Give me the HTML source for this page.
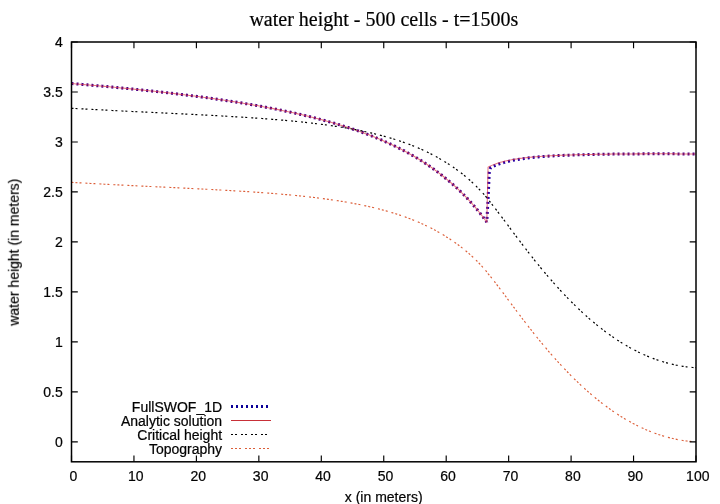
<!DOCTYPE html>
<html><head><meta charset="utf-8"><title>water height</title>
<style>html,body{margin:0;padding:0;background:#fff;width:720px;height:504px;overflow:hidden}</style></head>
<body>
<svg width="720" height="504" viewBox="0 0 720 504" style="position:absolute;left:0;top:0">
<rect width="720" height="504" fill="#fff"/>
<path d="M71.50,83.55 L72.12,83.60 L73.37,83.70 L74.62,83.80 L75.87,83.91 L77.12,84.01 L78.37,84.11 L79.62,84.22 L80.87,84.32 L82.12,84.42 L83.37,84.53 L84.61,84.63 L85.86,84.74 L87.11,84.85 L88.36,84.95 L89.61,85.06 L90.86,85.17 L92.11,85.28 L93.36,85.38 L94.61,85.49 L95.86,85.60 L97.10,85.71 L98.35,85.82 L99.60,85.93 L100.85,86.05 L102.10,86.16 L103.35,86.27 L104.60,86.38 L105.85,86.50 L107.10,86.61 L108.35,86.72 L109.59,86.84 L110.84,86.95 L112.09,87.07 L113.34,87.19 L114.59,87.30 L115.84,87.42 L117.09,87.54 L118.34,87.66 L119.59,87.78 L120.84,87.90 L122.08,88.02 L123.33,88.14 L124.58,88.26 L125.83,88.38 L127.08,88.50 L128.33,88.62 L129.58,88.75 L130.83,88.87 L132.08,89.00 L133.33,89.12 L134.57,89.25 L135.82,89.37 L137.07,89.50 L138.32,89.63 L139.57,89.76 L140.82,89.89 L142.07,90.01 L143.32,90.14 L144.57,90.28 L145.82,90.41 L147.06,90.54 L148.31,90.67 L149.56,90.81 L150.81,90.94 L152.06,91.07 L153.31,91.21 L154.56,91.35 L155.81,91.48 L157.06,91.62 L158.31,91.76 L159.55,91.90 L160.80,92.04 L162.05,92.18 L163.30,92.32 L164.55,92.46 L165.80,92.60 L167.05,92.75 L168.30,92.89 L169.55,93.03 L170.80,93.18 L172.04,93.33 L173.29,93.47 L174.54,93.62 L175.79,93.77 L177.04,93.92 L178.29,94.07 L179.54,94.22 L180.79,94.37 L182.04,94.53 L183.29,94.68 L184.53,94.83 L185.78,94.99 L187.03,95.15 L188.28,95.30 L189.53,95.46 L190.78,95.62 L192.03,95.78 L193.28,95.94 L194.53,96.10 L195.78,96.26 L197.02,96.43 L198.27,96.59 L199.52,96.76 L200.77,96.92 L202.02,97.09 L203.27,97.26 L204.52,97.43 L205.77,97.60 L207.02,97.77 L208.27,97.94 L209.51,98.12 L210.76,98.29 L212.01,98.47 L213.26,98.64 L214.51,98.82 L215.76,99.00 L217.01,99.18 L218.26,99.36 L219.51,99.54 L220.76,99.73 L222.00,99.91 L223.25,100.10 L224.50,100.28 L225.75,100.47 L227.00,100.66 L228.25,100.85 L229.50,101.04 L230.75,101.24 L232.00,101.43 L233.25,101.62 L234.49,101.82 L235.74,102.02 L236.99,102.22 L238.24,102.42 L239.49,102.62 L240.74,102.82 L241.99,103.03 L243.24,103.23 L244.49,103.44 L245.74,103.65 L246.98,103.86 L248.23,104.07 L249.48,104.28 L250.73,104.50 L251.98,104.72 L253.23,104.93 L254.48,105.15 L255.73,105.37 L256.98,105.59 L258.23,105.82 L259.47,106.04 L260.72,106.27 L261.97,106.50 L263.22,106.73 L264.47,106.96 L265.72,107.19 L266.97,107.43 L268.22,107.66 L269.47,107.90 L270.72,108.14 L271.96,108.38 L273.21,108.63 L274.46,108.87 L275.71,109.12 L276.96,109.37 L278.21,109.62 L279.46,109.87 L280.71,110.13 L281.96,110.39 L283.21,110.65 L284.45,110.91 L285.70,111.17 L286.95,111.43 L288.20,111.70 L289.45,111.97 L290.70,112.24 L291.95,112.51 L293.20,112.79 L294.45,113.07 L295.70,113.35 L296.94,113.63 L298.19,113.91 L299.44,114.20 L300.69,114.49 L301.94,114.78 L303.19,115.08 L304.44,115.37 L305.69,115.67 L306.94,115.97 L308.19,116.28 L309.43,116.58 L310.68,116.89 L311.93,117.20 L313.18,117.52 L314.43,117.83 L315.68,118.15 L316.93,118.48 L318.18,118.80 L319.43,119.13 L320.68,119.46 L321.92,119.79 L323.17,120.13 L324.42,120.47 L325.67,120.81 L326.92,121.16 L328.17,121.51 L329.42,121.86 L330.67,122.21 L331.92,122.57 L333.17,122.93 L334.41,123.30 L335.66,123.67 L336.91,124.04 L338.16,124.42 L339.41,124.79 L340.66,125.18 L341.91,125.56 L343.16,125.95 L344.41,126.35 L345.66,126.74 L346.90,127.14 L348.15,127.55 L349.40,127.96 L350.65,128.37 L351.90,128.79 L353.15,129.21 L354.40,129.63 L355.65,130.06 L356.90,130.50 L358.15,130.94 L359.39,131.38 L360.64,131.83 L361.89,132.28 L363.14,132.73 L364.39,133.19 L365.64,133.66 L366.89,134.13 L368.14,134.61 L369.39,135.09 L370.64,135.57 L371.88,136.06 L373.13,136.56 L374.38,137.06 L375.63,137.57 L376.88,138.08 L378.13,138.60 L379.38,139.12 L380.63,139.65 L381.88,140.19 L383.13,140.73 L384.37,141.28 L385.62,141.83 L386.87,142.39 L388.12,142.95 L389.37,143.53 L390.62,144.11 L391.87,144.69 L393.12,145.28 L394.37,145.88 L395.62,146.49 L396.86,147.10 L398.11,147.73 L399.36,148.35 L400.61,148.99 L401.86,149.63 L403.11,150.29 L404.36,150.95 L405.61,151.61 L406.86,152.29 L408.11,152.97 L409.35,153.67 L410.60,154.37 L411.85,155.08 L413.10,155.80 L414.35,156.52 L415.60,157.26 L416.85,158.01 L418.10,158.77 L419.35,159.53 L420.60,160.31 L421.84,161.10 L423.09,161.89 L424.34,162.70 L425.59,163.52 L426.84,164.35 L428.09,165.19 L429.34,166.05 L430.59,166.91 L431.84,167.79 L433.09,168.68 L434.33,169.58 L435.58,170.49 L436.83,171.42 L438.08,172.36 L439.33,173.31 L440.58,174.28 L441.83,175.26 L443.08,176.25 L444.33,177.26 L445.58,178.29 L446.82,179.31 L448.07,180.34 L449.32,181.39 L450.57,182.45 L451.82,183.52 L453.07,184.62 L454.32,185.73 L455.57,186.86 L456.82,188.00 L458.07,189.17 L459.31,190.35 L460.56,191.56 L461.81,192.78 L463.06,194.02 L464.31,195.29 L465.56,196.57 L466.81,197.88 L468.06,199.21 L469.31,200.56 L470.56,201.94 L471.80,203.34 L473.05,204.76 L474.30,206.21 L475.55,207.68 L476.80,209.18 L478.05,210.71 L479.30,212.26 L480.55,213.84 L481.80,215.46 L483.05,217.10 L484.29,218.77 L485.54,220.47 L486.79,222.20" fill="none" stroke="#4a0088" stroke-width="3" stroke-dasharray="2 3" stroke-dashoffset="0.000" stroke-linejoin="round"/>
<path d="M486.79,222.20 L488.04,199.92 L489.29,171.94 L490.54,167.62 L491.79,167.00 L493.04,166.41 L494.29,165.86 L495.54,165.34 L496.78,164.85 L498.03,164.38 L499.28,163.94 L500.53,163.53 L501.78,163.13 L503.03,162.75 L504.28,162.40 L505.53,162.06 L506.78,161.74 L508.03,161.43 L509.27,161.13 L510.52,160.85 L511.77,160.59 L513.02,160.33 L514.27,160.09 L515.52,159.86 L516.77,159.63 L518.02,159.42 L519.27,159.22 L520.52,159.02 L521.76,158.83 L523.01,158.65 L524.26,158.48 L525.51,158.31 L526.76,158.15 L528.01,158.00 L529.26,157.85 L530.51,157.71 L531.76,157.58 L533.01,157.45 L534.25,157.32 L535.50,157.20 L536.75,157.08 L538.00,156.97 L539.25,156.86 L540.50,156.76 L541.75,156.66 L543.00,156.56 L544.25,156.47 L545.50,156.37 L546.74,156.29" fill="none" stroke="#2c00a4" stroke-width="3" stroke-dasharray="2 3" stroke-dashoffset="1.629" stroke-linejoin="round"/>
<path d="M546.74,156.29 L547.99,156.20 L549.24,156.12 L550.49,156.04 L551.74,155.97 L552.99,155.89 L554.24,155.82 L555.49,155.75 L556.74,155.69 L557.99,155.62 L559.23,155.56 L560.48,155.50 L561.73,155.44 L562.98,155.38 L564.23,155.33 L565.48,155.28 L566.73,155.23 L567.98,155.18 L569.23,155.13 L570.48,155.08 L571.72,155.04 L572.97,154.99 L574.22,154.95 L575.47,154.91 L576.72,154.87 L577.97,154.83 L579.22,154.79 L580.47,154.76 L581.72,154.72 L582.97,154.69 L584.21,154.65 L585.46,154.62 L586.71,154.59 L587.96,154.56 L589.21,154.53 L590.46,154.50 L591.71,154.48 L592.96,154.45 L594.21,154.42 L595.46,154.40 L596.70,154.37 L597.95,154.35 L599.20,154.33 L600.45,154.31 L601.70,154.28 L602.95,154.26 L604.20,154.24 L605.45,154.22 L606.70,154.21 L607.95,154.19 L609.19,154.17 L610.44,154.15 L611.69,154.14 L612.94,154.12 L614.19,154.10 L615.44,154.09 L616.69,154.07 L617.94,154.06 L619.19,154.05 L620.44,154.03 L621.68,154.02 L622.93,154.01 L624.18,154.00 L625.43,153.99 L626.68,153.98 L627.93,153.97 L629.18,153.96 L630.43,153.95 L631.68,153.94 L632.93,153.93 L634.17,153.92 L635.42,153.91 L636.67,153.90 L637.92,153.89 L639.17,153.89 L640.42,153.88 L641.67,153.87 L642.92,153.87 L644.17,153.86 L645.42,153.86 L646.66,153.85 L647.91,153.85 L649.16,153.84 L650.41,153.84 L651.66,153.83 L652.91,153.83 L654.16,153.83 L655.41,153.82 L656.66,153.82 L657.91,153.82 L659.15,153.81 L660.40,153.81 L661.65,153.81 L662.90,153.81 L664.15,153.81 L665.40,153.81 L666.65,153.82 L667.90,153.83 L669.15,153.84 L670.40,153.85 L671.64,153.85 L672.89,153.86 L674.14,153.87 L675.39,153.88 L676.64,153.89 L677.89,153.90 L679.14,153.91 L680.39,153.93 L681.64,153.94 L682.89,153.95 L684.13,153.96 L685.38,153.97 L686.63,153.98 L687.88,153.99 L689.13,154.01 L690.38,154.02 L691.63,154.03 L692.88,154.04 L694.13,154.06 L695.38,154.07 L696.00,154.07" fill="none" stroke="#4a0088" stroke-width="3" stroke-dasharray="2 3" stroke-dashoffset="4.151" stroke-linejoin="round"/>
<path d="M71.50,83.55 L72.12,83.60 L73.37,83.70 L74.62,83.80 L75.87,83.91 L77.12,84.01 L78.37,84.11 L79.62,84.22 L80.87,84.32 L82.12,84.42 L83.37,84.53 L84.61,84.63 L85.86,84.74 L87.11,84.85 L88.36,84.95 L89.61,85.06 L90.86,85.17 L92.11,85.28 L93.36,85.38 L94.61,85.49 L95.86,85.60 L97.10,85.71 L98.35,85.82 L99.60,85.93 L100.85,86.05 L102.10,86.16 L103.35,86.27 L104.60,86.38 L105.85,86.50 L107.10,86.61 L108.35,86.72 L109.59,86.84 L110.84,86.95 L112.09,87.07 L113.34,87.19 L114.59,87.30 L115.84,87.42 L117.09,87.54 L118.34,87.66 L119.59,87.78 L120.84,87.90 L122.08,88.02 L123.33,88.14 L124.58,88.26 L125.83,88.38 L127.08,88.50 L128.33,88.62 L129.58,88.75 L130.83,88.87 L132.08,89.00 L133.33,89.12 L134.57,89.25 L135.82,89.37 L137.07,89.50 L138.32,89.63 L139.57,89.76 L140.82,89.89 L142.07,90.01 L143.32,90.14 L144.57,90.28 L145.82,90.41 L147.06,90.54 L148.31,90.67 L149.56,90.81 L150.81,90.94 L152.06,91.07 L153.31,91.21 L154.56,91.35 L155.81,91.48 L157.06,91.62 L158.31,91.76 L159.55,91.90 L160.80,92.04 L162.05,92.18 L163.30,92.32 L164.55,92.46 L165.80,92.60 L167.05,92.75 L168.30,92.89 L169.55,93.03 L170.80,93.18 L172.04,93.33 L173.29,93.47 L174.54,93.62 L175.79,93.77 L177.04,93.92 L178.29,94.07 L179.54,94.22 L180.79,94.37 L182.04,94.53 L183.29,94.68 L184.53,94.83 L185.78,94.99 L187.03,95.15 L188.28,95.30 L189.53,95.46 L190.78,95.62 L192.03,95.78 L193.28,95.94 L194.53,96.10 L195.78,96.26 L197.02,96.43 L198.27,96.59 L199.52,96.76 L200.77,96.92 L202.02,97.09 L203.27,97.26 L204.52,97.43 L205.77,97.60 L207.02,97.77 L208.27,97.94 L209.51,98.12 L210.76,98.29 L212.01,98.47 L213.26,98.64 L214.51,98.82 L215.76,99.00 L217.01,99.18 L218.26,99.36 L219.51,99.54 L220.76,99.73 L222.00,99.91 L223.25,100.10 L224.50,100.28 L225.75,100.47 L227.00,100.66 L228.25,100.85 L229.50,101.04 L230.75,101.24 L232.00,101.43 L233.25,101.62 L234.49,101.82 L235.74,102.02 L236.99,102.22 L238.24,102.42 L239.49,102.62 L240.74,102.82 L241.99,103.03 L243.24,103.23 L244.49,103.44 L245.74,103.65 L246.98,103.86 L248.23,104.07 L249.48,104.28 L250.73,104.50 L251.98,104.72 L253.23,104.93 L254.48,105.15 L255.73,105.37 L256.98,105.59 L258.23,105.82 L259.47,106.04 L260.72,106.27 L261.97,106.50 L263.22,106.73 L264.47,106.96 L265.72,107.19 L266.97,107.43 L268.22,107.66 L269.47,107.90 L270.72,108.14 L271.96,108.38 L273.21,108.63 L274.46,108.87 L275.71,109.12 L276.96,109.37 L278.21,109.62 L279.46,109.87 L280.71,110.13 L281.96,110.39 L283.21,110.65 L284.45,110.91 L285.70,111.17 L286.95,111.43 L288.20,111.70 L289.45,111.97 L290.70,112.24 L291.95,112.51 L293.20,112.79 L294.45,113.07 L295.70,113.35 L296.94,113.63 L298.19,113.91 L299.44,114.20 L300.69,114.49 L301.94,114.78 L303.19,115.08 L304.44,115.37 L305.69,115.67 L306.94,115.97 L308.19,116.28 L309.43,116.58 L310.68,116.89 L311.93,117.20 L313.18,117.52 L314.43,117.83 L315.68,118.15 L316.93,118.48 L318.18,118.80 L319.43,119.13 L320.68,119.46 L321.92,119.79 L323.17,120.13 L324.42,120.47 L325.67,120.81 L326.92,121.16 L328.17,121.51 L329.42,121.86 L330.67,122.21 L331.92,122.57 L333.17,122.93 L334.41,123.30 L335.66,123.67 L336.91,124.04 L338.16,124.42 L339.41,124.79 L340.66,125.18 L341.91,125.56 L343.16,125.95 L344.41,126.35 L345.66,126.74 L346.90,127.14 L348.15,127.55 L349.40,127.96 L350.65,128.37 L351.90,128.79 L353.15,129.21 L354.40,129.63 L355.65,130.06 L356.90,130.50 L358.15,130.94 L359.39,131.38 L360.64,131.83 L361.89,132.28 L363.14,132.73 L364.39,133.19 L365.64,133.66 L366.89,134.13 L368.14,134.61 L369.39,135.09 L370.64,135.57 L371.88,136.06 L373.13,136.56 L374.38,137.06 L375.63,137.57 L376.88,138.08 L378.13,138.60 L379.38,139.12 L380.63,139.65 L381.88,140.19 L383.13,140.73 L384.37,141.28 L385.62,141.83 L386.87,142.39 L388.12,142.95 L389.37,143.53 L390.62,144.11 L391.87,144.69 L393.12,145.28 L394.37,145.88 L395.62,146.49 L396.86,147.10 L398.11,147.73 L399.36,148.35 L400.61,148.99 L401.86,149.63 L403.11,150.29 L404.36,150.95 L405.61,151.61 L406.86,152.29 L408.11,152.97 L409.35,153.67 L410.60,154.37 L411.85,155.08 L413.10,155.80 L414.35,156.52 L415.60,157.26 L416.85,158.01 L418.10,158.77 L419.35,159.53 L420.60,160.31 L421.84,161.10 L423.09,161.89 L424.34,162.70 L425.59,163.52 L426.84,164.35 L428.09,165.19 L429.34,166.05 L430.59,166.91 L431.84,167.79 L433.09,168.68 L434.33,169.58 L435.58,170.49 L436.83,171.42 L438.08,172.36 L439.33,173.31 L440.58,174.28 L441.83,175.26 L443.08,176.25 L444.33,177.26 L445.58,178.29 L446.82,179.31 L448.07,180.34 L449.32,181.39 L450.57,182.45 L451.82,183.52 L453.07,184.62 L454.32,185.73 L455.57,186.86 L456.82,188.00 L458.07,189.17 L459.31,190.35 L460.56,191.56 L461.81,192.78 L463.06,194.02 L464.31,195.29 L465.56,196.57 L466.81,197.88 L468.06,199.21 L469.31,200.56 L470.56,201.94 L471.80,203.34 L473.05,204.76 L474.30,206.21 L475.55,207.68 L476.80,209.18 L478.05,210.71 L479.30,212.26 L480.55,213.84 L481.80,215.46 L483.05,217.10 L484.29,218.77 L485.54,220.47 L486.79,222.20 L488.04,167.17 L489.29,166.54 L490.54,165.95 L491.79,165.39 L493.04,164.87 L494.29,164.38 L495.54,163.92 L496.78,163.48 L498.03,163.07 L499.28,162.68 L500.53,162.32 L501.78,161.97 L503.03,161.64 L504.28,161.32 L505.53,161.03 L506.78,160.74 L508.03,160.48 L509.27,160.22 L510.52,159.98 L511.77,159.74 L513.02,159.52 L514.27,159.31 L515.52,159.11 L516.77,158.91 L518.02,158.73 L519.27,158.55 L520.52,158.38 L521.76,158.22 L523.01,158.06 L524.26,157.91 L525.51,157.77 L526.76,157.63 L528.01,157.50 L529.26,157.37 L530.51,157.25 L531.76,157.13 L533.01,157.02 L534.25,156.91 L535.50,156.81 L536.75,156.70 L538.00,156.61 L539.25,156.51 L540.50,156.42 L541.75,156.33 L543.00,156.25 L544.25,156.17 L545.50,156.09 L546.74,156.01 L547.99,155.94 L549.24,155.87 L550.49,155.80 L551.74,155.73 L552.99,155.67 L554.24,155.60 L555.49,155.54 L556.74,155.49 L557.99,155.43 L559.23,155.37 L560.48,155.32 L561.73,155.27 L562.98,155.22 L564.23,155.17 L565.48,155.13 L566.73,155.08 L567.98,155.04 L569.23,154.99 L570.48,154.95 L571.72,154.91 L572.97,154.87 L574.22,154.84 L575.47,154.80 L576.72,154.76 L577.97,154.73 L579.22,154.70 L580.47,154.66 L581.72,154.63 L582.97,154.60 L584.21,154.57 L585.46,154.54 L586.71,154.51 L587.96,154.49 L589.21,154.46 L590.46,154.44 L591.71,154.41 L592.96,154.39 L594.21,154.36 L595.46,154.34 L596.70,154.32 L597.95,154.30 L599.20,154.28 L600.45,154.26 L601.70,154.24 L602.95,154.22 L604.20,154.20 L605.45,154.18 L606.70,154.16 L607.95,154.15 L609.19,154.13 L610.44,154.12 L611.69,154.10 L612.94,154.09 L614.19,154.07 L615.44,154.06 L616.69,154.05 L617.94,154.03 L619.19,154.02 L620.44,154.01 L621.68,154.00 L622.93,153.99 L624.18,153.97 L625.43,153.96 L626.68,153.95 L627.93,153.94 L629.18,153.94 L630.43,153.93 L631.68,153.92 L632.93,153.91 L634.17,153.90 L635.42,153.89 L636.67,153.89 L637.92,153.88 L639.17,153.87 L640.42,153.87 L641.67,153.86 L642.92,153.86 L644.17,153.85 L645.42,153.85 L646.66,153.84 L647.91,153.84 L649.16,153.83 L650.41,153.83 L651.66,153.82 L652.91,153.82 L654.16,153.82 L655.41,153.81 L656.66,153.81 L657.91,153.81 L659.15,153.81 L660.40,153.81 L661.65,153.80 L662.90,153.80 L664.15,153.80 L665.40,153.80 L666.65,153.81 L667.90,153.82 L669.15,153.83 L670.40,153.84 L671.64,153.85 L672.89,153.86 L674.14,153.87 L675.39,153.88 L676.64,153.89 L677.89,153.90 L679.14,153.91 L680.39,153.92 L681.64,153.93 L682.89,153.94 L684.13,153.96 L685.38,153.97 L686.63,153.98 L687.88,153.99 L689.13,154.00 L690.38,154.02 L691.63,154.03 L692.88,154.04 L694.13,154.06 L695.38,154.07 L696.00,154.08" fill="none" stroke="#d82c3c" stroke-opacity="0.64" stroke-width="1.05" stroke-linejoin="round"/>
<path d="M71.50,108.25 L72.12,108.29 L73.37,108.36 L74.62,108.44 L75.87,108.51 L77.12,108.58 L78.37,108.65 L79.62,108.72 L80.87,108.79 L82.12,108.86 L83.37,108.93 L84.61,109.00 L85.86,109.07 L87.11,109.14 L88.36,109.21 L89.61,109.28 L90.86,109.35 L92.11,109.42 L93.36,109.49 L94.61,109.55 L95.86,109.62 L97.10,109.69 L98.35,109.75 L99.60,109.82 L100.85,109.89 L102.10,109.95 L103.35,110.02 L104.60,110.09 L105.85,110.15 L107.10,110.22 L108.35,110.28 L109.59,110.35 L110.84,110.41 L112.09,110.48 L113.34,110.54 L114.59,110.60 L115.84,110.67 L117.09,110.73 L118.34,110.80 L119.59,110.86 L120.84,110.92 L122.08,110.99 L123.33,111.05 L124.58,111.11 L125.83,111.17 L127.08,111.24 L128.33,111.30 L129.58,111.36 L130.83,111.42 L132.08,111.48 L133.33,111.54 L134.57,111.61 L135.82,111.67 L137.07,111.73 L138.32,111.79 L139.57,111.85 L140.82,111.91 L142.07,111.97 L143.32,112.03 L144.57,112.09 L145.82,112.16 L147.06,112.22 L148.31,112.28 L149.56,112.34 L150.81,112.40 L152.06,112.46 L153.31,112.52 L154.56,112.58 L155.81,112.64 L157.06,112.70 L158.31,112.76 L159.55,112.82 L160.80,112.88 L162.05,112.94 L163.30,113.00 L164.55,113.06 L165.80,113.12 L167.05,113.18 L168.30,113.24 L169.55,113.30 L170.80,113.36 L172.04,113.42 L173.29,113.48 L174.54,113.54 L175.79,113.60 L177.04,113.67 L178.29,113.73 L179.54,113.79 L180.79,113.85 L182.04,113.91 L183.29,113.97 L184.53,114.03 L185.78,114.09 L187.03,114.16 L188.28,114.22 L189.53,114.28 L190.78,114.34 L192.03,114.40 L193.28,114.47 L194.53,114.53 L195.78,114.59 L197.02,114.66 L198.27,114.72 L199.52,114.78 L200.77,114.85 L202.02,114.91 L203.27,114.98 L204.52,115.04 L205.77,115.11 L207.02,115.17 L208.27,115.24 L209.51,115.30 L210.76,115.37 L212.01,115.44 L213.26,115.50 L214.51,115.57 L215.76,115.64 L217.01,115.71 L218.26,115.78 L219.51,115.84 L220.76,115.91 L222.00,115.98 L223.25,116.05 L224.50,116.12 L225.75,116.20 L227.00,116.27 L228.25,116.34 L229.50,116.41 L230.75,116.48 L232.00,116.56 L233.25,116.63 L234.49,116.71 L235.74,116.78 L236.99,116.86 L238.24,116.93 L239.49,117.01 L240.74,117.09 L241.99,117.17 L243.24,117.25 L244.49,117.33 L245.74,117.41 L246.98,117.49 L248.23,117.57 L249.48,117.65 L250.73,117.74 L251.98,117.82 L253.23,117.90 L254.48,117.99 L255.73,118.08 L256.98,118.16 L258.23,118.25 L259.47,118.34 L260.72,118.43 L261.97,118.52 L263.22,118.61 L264.47,118.70 L265.72,118.80 L266.97,118.89 L268.22,118.99 L269.47,119.08 L270.72,119.18 L271.96,119.28 L273.21,119.38 L274.46,119.48 L275.71,119.58 L276.96,119.69 L278.21,119.79 L279.46,119.89 L280.71,120.00 L281.96,120.11 L283.21,120.22 L284.45,120.33 L285.70,120.44 L286.95,120.55 L288.20,120.67 L289.45,120.78 L290.70,120.90 L291.95,121.02 L293.20,121.14 L294.45,121.26 L295.70,121.38 L296.94,121.51 L298.19,121.63 L299.44,121.76 L300.69,121.89 L301.94,122.02 L303.19,122.15 L304.44,122.29 L305.69,122.42 L306.94,122.56 L308.19,122.70 L309.43,122.84 L310.68,122.98 L311.93,123.13 L313.18,123.28 L314.43,123.42 L315.68,123.58 L316.93,123.73 L318.18,123.88 L319.43,124.04 L320.68,124.20 L321.92,124.36 L323.17,124.53 L324.42,124.69 L325.67,124.86 L326.92,125.03 L328.17,125.20 L329.42,125.38 L330.67,125.56 L331.92,125.74 L333.17,125.92 L334.41,126.11 L335.66,126.29 L336.91,126.48 L338.16,126.68 L339.41,126.88 L340.66,127.07 L341.91,127.28 L343.16,127.48 L344.41,127.69 L345.66,127.90 L346.90,128.12 L348.15,128.33 L349.40,128.55 L350.65,128.78 L351.90,129.01 L353.15,129.24 L354.40,129.47 L355.65,129.71 L356.90,129.95 L358.15,130.20 L359.39,130.44 L360.64,130.70 L361.89,130.95 L363.14,131.21 L364.39,131.48 L365.64,131.75 L366.89,132.02 L368.14,132.30 L369.39,132.58 L370.64,132.86 L371.88,133.15 L373.13,133.45 L374.38,133.75 L375.63,134.05 L376.88,134.36 L378.13,134.67 L379.38,134.99 L380.63,135.31 L381.88,135.64 L383.13,135.98 L384.37,136.31 L385.62,136.66 L386.87,137.01 L388.12,137.36 L389.37,137.73 L390.62,138.09 L391.87,138.47 L393.12,138.85 L394.37,139.23 L395.62,139.62 L396.86,140.02 L398.11,140.43 L399.36,140.84 L400.61,141.26 L401.86,141.68 L403.11,142.12 L404.36,142.56 L405.61,143.00 L406.86,143.46 L408.11,143.92 L409.35,144.39 L410.60,144.87 L411.85,145.35 L413.10,145.85 L414.35,146.35 L415.60,146.86 L416.85,147.38 L418.10,147.91 L419.35,148.45 L420.60,149.00 L421.84,149.56 L423.09,150.12 L424.34,150.70 L425.59,151.29 L426.84,151.88 L428.09,152.49 L429.34,153.11 L430.59,153.74 L431.84,154.38 L433.09,155.03 L434.33,155.70 L435.58,156.37 L436.83,157.06 L438.08,157.76 L439.33,158.48 L440.58,159.20 L441.83,159.94 L443.08,160.70 L444.33,161.46 L445.58,162.24 L446.82,163.03 L448.07,163.81 L449.32,164.61 L450.57,165.42 L451.82,166.25 L453.07,167.10 L454.32,167.96 L455.57,168.84 L456.82,169.74 L458.07,170.65 L459.31,171.58 L460.56,172.54 L461.81,173.51 L463.06,174.50 L464.31,175.51 L465.56,176.54 L466.81,177.59 L468.06,178.66 L469.31,179.76 L470.56,180.87 L471.80,182.01 L473.05,183.18 L474.30,184.37 L475.55,185.58 L476.80,186.82 L478.05,188.08 L479.30,189.37 L480.55,190.69 L481.80,192.04 L483.05,193.41 L484.29,194.82 L485.54,196.25 L486.79,197.72 L488.04,199.44 L489.29,200.95 L490.54,202.48 L491.79,204.04 L493.04,205.62 L494.29,207.22 L495.54,208.83 L496.78,210.46 L498.03,212.10 L499.28,213.74 L500.53,215.40 L501.78,217.06 L503.03,218.73 L504.28,220.40 L505.53,222.08 L506.78,223.75 L508.03,225.43 L509.27,227.11 L510.52,228.79 L511.77,230.46 L513.02,232.14 L514.27,233.81 L515.52,235.48 L516.77,237.14 L518.02,238.80 L519.27,240.45 L520.52,242.10 L521.76,243.75 L523.01,245.38 L524.26,247.01 L525.51,248.64 L526.76,250.25 L528.01,251.86 L529.26,253.47 L530.51,255.06 L531.76,256.65 L533.01,258.22 L534.25,259.79 L535.50,261.35 L536.75,262.90 L538.00,264.44 L539.25,265.98 L540.50,267.50 L541.75,269.01 L543.00,270.52 L544.25,272.01 L545.50,273.50 L546.74,274.97 L547.99,276.43 L549.24,277.89 L550.49,279.33 L551.74,280.76 L552.99,282.19 L554.24,283.60 L555.49,285.00 L556.74,286.39 L557.99,287.77 L559.23,289.14 L560.48,290.50 L561.73,291.84 L562.98,293.18 L564.23,294.50 L565.48,295.81 L566.73,297.12 L567.98,298.41 L569.23,299.68 L570.48,300.95 L571.72,302.21 L572.97,303.45 L574.22,304.69 L575.47,305.91 L576.72,307.12 L577.97,308.32 L579.22,309.50 L580.47,310.68 L581.72,311.84 L582.97,312.99 L584.21,314.13 L585.46,315.26 L586.71,316.38 L587.96,317.48 L589.21,318.58 L590.46,319.66 L591.71,320.73 L592.96,321.78 L594.21,322.83 L595.46,323.86 L596.70,324.89 L597.95,325.89 L599.20,326.89 L600.45,327.88 L601.70,328.85 L602.95,329.81 L604.20,330.76 L605.45,331.70 L606.70,332.63 L607.95,333.54 L609.19,334.44 L610.44,335.33 L611.69,336.21 L612.94,337.08 L614.19,337.93 L615.44,338.77 L616.69,339.60 L617.94,340.42 L619.19,341.22 L620.44,342.02 L621.68,342.80 L622.93,343.57 L624.18,344.32 L625.43,345.07 L626.68,345.80 L627.93,346.52 L629.18,347.23 L630.43,347.92 L631.68,348.61 L632.93,349.28 L634.17,349.94 L635.42,350.59 L636.67,351.22 L637.92,351.85 L639.17,352.46 L640.42,353.06 L641.67,353.65 L642.92,354.22 L644.17,354.78 L645.42,355.33 L646.66,355.87 L647.91,356.40 L649.16,356.91 L650.41,357.41 L651.66,357.90 L652.91,358.38 L654.16,358.85 L655.41,359.30 L656.66,359.74 L657.91,360.17 L659.15,360.59 L660.40,361.00 L661.65,361.39 L662.90,361.77 L664.15,362.14 L665.40,362.50 L666.65,362.85 L667.90,363.20 L669.15,363.52 L670.40,363.84 L671.64,364.15 L672.89,364.44 L674.14,364.72 L675.39,364.99 L676.64,365.25 L677.89,365.49 L679.14,365.73 L680.39,365.95 L681.64,366.16 L682.89,366.35 L684.13,366.54 L685.38,366.71 L686.63,366.87 L687.88,367.02 L689.13,367.16 L690.38,367.28 L691.63,367.39 L692.88,367.49 L694.13,367.58 L695.38,367.66 L696.00,367.69" fill="none" stroke="#000" stroke-width="1.2" stroke-dasharray="2 2 2 4"/>
<path d="M71.50,182.37 L72.12,182.41 L73.37,182.48 L74.62,182.55 L75.87,182.63 L77.12,182.70 L78.37,182.77 L79.62,182.84 L80.87,182.91 L82.12,182.98 L83.37,183.05 L84.61,183.12 L85.86,183.19 L87.11,183.26 L88.36,183.33 L89.61,183.40 L90.86,183.47 L92.11,183.54 L93.36,183.60 L94.61,183.67 L95.86,183.74 L97.10,183.81 L98.35,183.87 L99.60,183.94 L100.85,184.01 L102.10,184.07 L103.35,184.14 L104.60,184.20 L105.85,184.27 L107.10,184.33 L108.35,184.40 L109.59,184.46 L110.84,184.53 L112.09,184.59 L113.34,184.66 L114.59,184.72 L115.84,184.79 L117.09,184.85 L118.34,184.91 L119.59,184.98 L120.84,185.04 L122.08,185.10 L123.33,185.17 L124.58,185.23 L125.83,185.29 L127.08,185.35 L128.33,185.42 L129.58,185.48 L130.83,185.54 L132.08,185.60 L133.33,185.66 L134.57,185.72 L135.82,185.79 L137.07,185.85 L138.32,185.91 L139.57,185.97 L140.82,186.03 L142.07,186.09 L143.32,186.15 L144.57,186.21 L145.82,186.27 L147.06,186.33 L148.31,186.39 L149.56,186.46 L150.81,186.52 L152.06,186.58 L153.31,186.64 L154.56,186.70 L155.81,186.76 L157.06,186.82 L158.31,186.88 L159.55,186.94 L160.80,187.00 L162.05,187.06 L163.30,187.12 L164.55,187.18 L165.80,187.24 L167.05,187.30 L168.30,187.36 L169.55,187.42 L170.80,187.48 L172.04,187.54 L173.29,187.60 L174.54,187.66 L175.79,187.72 L177.04,187.78 L178.29,187.84 L179.54,187.91 L180.79,187.97 L182.04,188.03 L183.29,188.09 L184.53,188.15 L185.78,188.21 L187.03,188.27 L188.28,188.34 L189.53,188.40 L190.78,188.46 L192.03,188.52 L193.28,188.59 L194.53,188.65 L195.78,188.71 L197.02,188.77 L198.27,188.84 L199.52,188.90 L200.77,188.97 L202.02,189.03 L203.27,189.09 L204.52,189.16 L205.77,189.22 L207.02,189.29 L208.27,189.36 L209.51,189.42 L210.76,189.49 L212.01,189.55 L213.26,189.62 L214.51,189.69 L215.76,189.76 L217.01,189.82 L218.26,189.89 L219.51,189.96 L220.76,190.03 L222.00,190.10 L223.25,190.17 L224.50,190.24 L225.75,190.31 L227.00,190.38 L228.25,190.46 L229.50,190.53 L230.75,190.60 L232.00,190.68 L233.25,190.75 L234.49,190.83 L235.74,190.90 L236.99,190.98 L238.24,191.05 L239.49,191.13 L240.74,191.21 L241.99,191.29 L243.24,191.36 L244.49,191.44 L245.74,191.52 L246.98,191.61 L248.23,191.69 L249.48,191.77 L250.73,191.85 L251.98,191.94 L253.23,192.02 L254.48,192.11 L255.73,192.19 L256.98,192.28 L258.23,192.37 L259.47,192.46 L260.72,192.55 L261.97,192.64 L263.22,192.73 L264.47,192.82 L265.72,192.92 L266.97,193.01 L268.22,193.11 L269.47,193.20 L270.72,193.30 L271.96,193.40 L273.21,193.50 L274.46,193.60 L275.71,193.70 L276.96,193.80 L278.21,193.91 L279.46,194.01 L280.71,194.12 L281.96,194.23 L283.21,194.34 L284.45,194.45 L285.70,194.56 L286.95,194.67 L288.20,194.78 L289.45,194.90 L290.70,195.02 L291.95,195.14 L293.20,195.26 L294.45,195.38 L295.70,195.50 L296.94,195.62 L298.19,195.75 L299.44,195.88 L300.69,196.01 L301.94,196.14 L303.19,196.27 L304.44,196.40 L305.69,196.54 L306.94,196.68 L308.19,196.82 L309.43,196.96 L310.68,197.10 L311.93,197.25 L313.18,197.39 L314.43,197.54 L315.68,197.69 L316.93,197.85 L318.18,198.00 L319.43,198.16 L320.68,198.32 L321.92,198.48 L323.17,198.64 L324.42,198.81 L325.67,198.98 L326.92,199.15 L328.17,199.32 L329.42,199.50 L330.67,199.67 L331.92,199.85 L333.17,200.04 L334.41,200.22 L335.66,200.41 L336.91,200.60 L338.16,200.80 L339.41,200.99 L340.66,201.19 L341.91,201.39 L343.16,201.60 L344.41,201.81 L345.66,202.02 L346.90,202.23 L348.15,202.45 L349.40,202.67 L350.65,202.90 L351.90,203.12 L353.15,203.36 L354.40,203.59 L355.65,203.83 L356.90,204.07 L358.15,204.31 L359.39,204.56 L360.64,204.82 L361.89,205.07 L363.14,205.33 L364.39,205.60 L365.64,205.86 L366.89,206.14 L368.14,206.41 L369.39,206.70 L370.64,206.98 L371.88,207.27 L373.13,207.56 L374.38,207.86 L375.63,208.17 L376.88,208.48 L378.13,208.79 L379.38,209.11 L380.63,209.43 L381.88,209.76 L383.13,210.09 L384.37,210.43 L385.62,210.78 L386.87,211.13 L388.12,211.48 L389.37,211.84 L390.62,212.21 L391.87,212.59 L393.12,212.96 L394.37,213.35 L395.62,213.74 L396.86,214.14 L398.11,214.55 L399.36,214.96 L400.61,215.38 L401.86,215.80 L403.11,216.23 L404.36,216.67 L405.61,217.12 L406.86,217.57 L408.11,218.04 L409.35,218.51 L410.60,218.99 L411.85,219.47 L413.10,219.97 L414.35,220.47 L415.60,220.98 L416.85,221.50 L418.10,222.03 L419.35,222.57 L420.60,223.12 L421.84,223.67 L423.09,224.24 L424.34,224.82 L425.59,225.40 L426.84,226.00 L428.09,226.61 L429.34,227.23 L430.59,227.86 L431.84,228.50 L433.09,229.15 L434.33,229.81 L435.58,230.49 L436.83,231.18 L438.08,231.88 L439.33,232.59 L440.58,233.32 L441.83,234.06 L443.08,234.81 L444.33,235.58 L445.58,236.36 L446.82,237.14 L448.07,237.93 L449.32,238.73 L450.57,239.54 L451.82,240.37 L453.07,241.22 L454.32,242.08 L455.57,242.96 L456.82,243.85 L458.07,244.77 L459.31,245.70 L460.56,246.65 L461.81,247.62 L463.06,248.61 L464.31,249.62 L465.56,250.65 L466.81,251.71 L468.06,252.78 L469.31,253.87 L470.56,254.99 L471.80,256.13 L473.05,257.29 L474.30,258.48 L475.55,259.70 L476.80,260.93 L478.05,262.20 L479.30,263.49 L480.55,264.81 L481.80,266.16 L483.05,267.53 L484.29,268.94 L485.54,270.37 L486.79,271.84 L488.04,273.56 L489.29,275.07 L490.54,276.60 L491.79,278.16 L493.04,279.74 L494.29,281.34 L495.54,282.95 L496.78,284.58 L498.03,286.21 L499.28,287.86 L500.53,289.52 L501.78,291.18 L503.03,292.85 L504.28,294.52 L505.53,296.20 L506.78,297.87 L508.03,299.55 L509.27,301.23 L510.52,302.91 L511.77,304.58 L513.02,306.26 L514.27,307.93 L515.52,309.59 L516.77,311.26 L518.02,312.92 L519.27,314.57 L520.52,316.22 L521.76,317.86 L523.01,319.50 L524.26,321.13 L525.51,322.76 L526.76,324.37 L528.01,325.98 L529.26,327.58 L530.51,329.18 L531.76,330.76 L533.01,332.34 L534.25,333.91 L535.50,335.47 L536.75,337.02 L538.00,338.56 L539.25,340.10 L540.50,341.62 L541.75,343.13 L543.00,344.64 L544.25,346.13 L545.50,347.61 L546.74,349.09 L547.99,350.55 L549.24,352.01 L550.49,353.45 L551.74,354.88 L552.99,356.31 L554.24,357.72 L555.49,359.12 L556.74,360.51 L557.99,361.89 L559.23,363.26 L560.48,364.61 L561.73,365.96 L562.98,367.29 L564.23,368.62 L565.48,369.93 L566.73,371.23 L567.98,372.52 L569.23,373.80 L570.48,375.07 L571.72,376.33 L572.97,377.57 L574.22,378.80 L575.47,380.03 L576.72,381.24 L577.97,382.43 L579.22,383.62 L580.47,384.80 L581.72,385.96 L582.97,387.11 L584.21,388.25 L585.46,389.38 L586.71,390.50 L587.96,391.60 L589.21,392.69 L590.46,393.78 L591.71,394.85 L592.96,395.90 L594.21,396.95 L595.46,397.98 L596.70,399.00 L597.95,400.01 L599.20,401.01 L600.45,402.00 L601.70,402.97 L602.95,403.93 L604.20,404.88 L605.45,405.82 L606.70,406.75 L607.95,407.66 L609.19,408.56 L610.44,409.45 L611.69,410.33 L612.94,411.19 L614.19,412.05 L615.44,412.89 L616.69,413.72 L617.94,414.54 L619.19,415.34 L620.44,416.13 L621.68,416.91 L622.93,417.68 L624.18,418.44 L625.43,419.19 L626.68,419.92 L627.93,420.64 L629.18,421.35 L630.43,422.04 L631.68,422.73 L632.93,423.40 L634.17,424.06 L635.42,424.71 L636.67,425.34 L637.92,425.97 L639.17,426.58 L640.42,427.18 L641.67,427.76 L642.92,428.34 L644.17,428.90 L645.42,429.45 L646.66,429.99 L647.91,430.52 L649.16,431.03 L650.41,431.53 L651.66,432.02 L652.91,432.50 L654.16,432.97 L655.41,433.42 L656.66,433.86 L657.91,434.29 L659.15,434.71 L660.40,435.11 L661.65,435.51 L662.90,435.89 L664.15,436.26 L665.40,436.62 L666.65,436.97 L667.90,437.31 L669.15,437.64 L670.40,437.96 L671.64,438.27 L672.89,438.56 L674.14,438.84 L675.39,439.11 L676.64,439.37 L677.89,439.61 L679.14,439.84 L680.39,440.06 L681.64,440.27 L682.89,440.47 L684.13,440.66 L685.38,440.83 L686.63,440.99 L687.88,441.14 L689.13,441.27 L690.38,441.40 L691.63,441.51 L692.88,441.61 L694.13,441.70 L695.38,441.78 L696.00,441.81" fill="none" stroke="#dc5e38" stroke-width="1.15" stroke-dasharray="2 2 2 2 2 4"/>
<path d="M71.50,461.8 v-6.3 M71.50,42.0 v6.3 M133.95,461.8 v-6.3 M133.95,42.0 v6.3 M196.40,461.8 v-6.3 M196.40,42.0 v6.3 M258.85,461.8 v-6.3 M258.85,42.0 v6.3 M321.30,461.8 v-6.3 M321.30,42.0 v6.3 M383.75,461.8 v-6.3 M383.75,42.0 v6.3 M446.20,461.8 v-6.3 M446.20,42.0 v6.3 M508.65,461.8 v-6.3 M508.65,42.0 v6.3 M571.10,461.8 v-6.3 M571.10,42.0 v6.3 M633.55,461.8 v-6.3 M633.55,42.0 v6.3 M696.00,461.8 v-6.3 M696.00,42.0 v6.3 M71.5,441.81 h6.3 M696.0,441.81 h-6.3 M71.5,391.83 h6.3 M696.0,391.83 h-6.3 M71.5,341.86 h6.3 M696.0,341.86 h-6.3 M71.5,291.88 h6.3 M696.0,291.88 h-6.3 M71.5,241.90 h6.3 M696.0,241.90 h-6.3 M71.5,191.93 h6.3 M696.0,191.93 h-6.3 M71.5,141.95 h6.3 M696.0,141.95 h-6.3 M71.5,91.98 h6.3 M696.0,91.98 h-6.3 M71.5,42.00 h6.3 M696.0,42.00 h-6.3" fill="none" stroke="#000" stroke-width="1.15"/>
<rect x="71.5" y="42.0" width="624.5" height="419.8" fill="none" stroke="#000" stroke-width="1.5"/>
<g font-family="Liberation Sans, sans-serif" font-size="14" fill="#000" stroke="#000" stroke-width="0.22" opacity="0.995">
<text x="73.30" y="480.6" text-anchor="middle">0</text>
<text x="135.75" y="480.6" text-anchor="middle">10</text>
<text x="198.20" y="480.6" text-anchor="middle">20</text>
<text x="260.65" y="480.6" text-anchor="middle">30</text>
<text x="323.10" y="480.6" text-anchor="middle">40</text>
<text x="385.55" y="480.6" text-anchor="middle">50</text>
<text x="448.00" y="480.6" text-anchor="middle">60</text>
<text x="510.45" y="480.6" text-anchor="middle">70</text>
<text x="572.90" y="480.6" text-anchor="middle">80</text>
<text x="635.35" y="480.6" text-anchor="middle">90</text>
<text x="697.80" y="480.6" text-anchor="middle">100</text>
<text x="62.8" y="447.11" text-anchor="end">0</text>
<text x="62.8" y="397.13" text-anchor="end">0.5</text>
<text x="62.8" y="347.16" text-anchor="end">1</text>
<text x="62.8" y="297.18" text-anchor="end">1.5</text>
<text x="62.8" y="247.20" text-anchor="end">2</text>
<text x="62.8" y="197.23" text-anchor="end">2.5</text>
<text x="62.8" y="147.25" text-anchor="end">3</text>
<text x="62.8" y="97.28" text-anchor="end">3.5</text>
<text x="62.8" y="47.30" text-anchor="end">4</text>
<text x="383.7" y="501.9" text-anchor="middle">x (in meters)</text>
<text transform="translate(18.8,252.2) rotate(-90)" text-anchor="middle">water height (in meters)</text>
<text x="222.1" y="411.7" text-anchor="end">FullSWOF_1D</text>
<text x="222.1" y="425.7" text-anchor="end">Analytic solution</text>
<text x="222.1" y="439.7" text-anchor="end">Critical height</text>
<text x="222.1" y="453.7" text-anchor="end">Topography</text>
</g>
<path d="M231,406.5 H270" fill="none" stroke="#0a0098" stroke-width="3" stroke-dasharray="2 3"/>
<path d="M231,420.5 H271" fill="none" stroke="#c83038" stroke-width="1.1"/>
<path d="M231,434.5 H270" fill="none" stroke="#000" stroke-width="1.2" stroke-dasharray="2 2 2 4"/>
<path d="M231,448.5 H270" fill="none" stroke="#dc5e38" stroke-width="1.15" stroke-dasharray="2 2 2 2 2 4"/>
<text x="383.9" y="25.95" text-anchor="middle" font-family="Liberation Serif, serif" font-size="20" fill="#000" stroke="#000" stroke-width="0.2" opacity="0.995">water height - 500 cells - t=1500s</text>
</svg>
</body></html>
